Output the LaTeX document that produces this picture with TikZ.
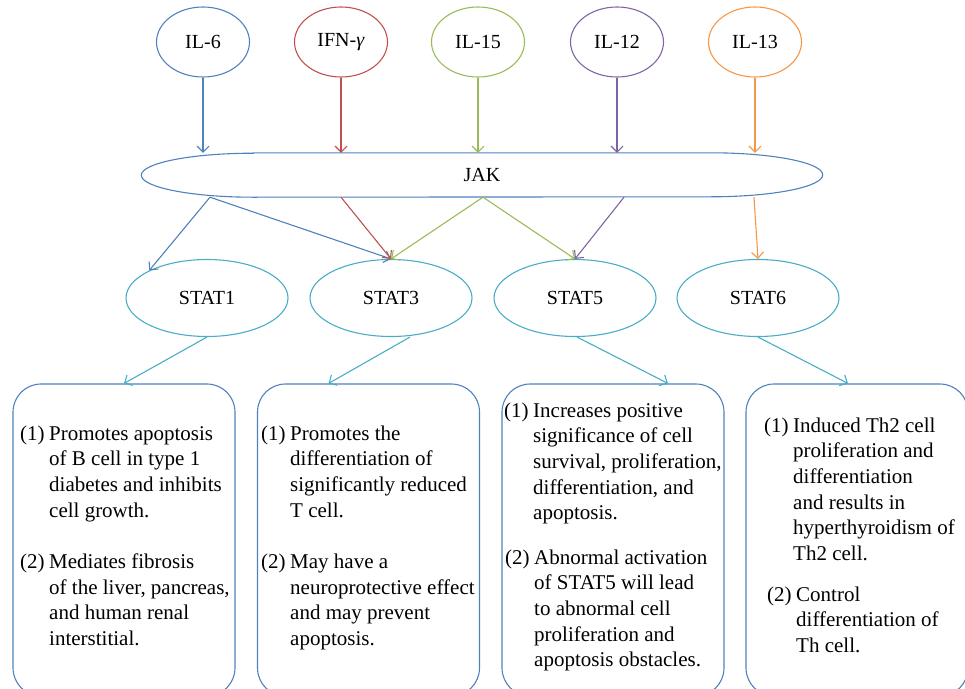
\documentclass[tikz,border=0pt]{standalone}
\usepackage{fontspec}
\setmainfont{Liberation Serif}
\usepackage{xcolor}
\usetikzlibrary{arrows.meta,shapes}

\definecolor{cblue}{HTML}{4F81BD}
\definecolor{cred}{HTML}{C0504D}
\definecolor{cgreen}{HTML}{9BBB59}
\definecolor{cpurple}{HTML}{8064A2}
\definecolor{corange}{HTML}{F79646}
\definecolor{cteal}{HTML}{4BACC6}

\newcommand{\numitem}[2]{\begin{tabular}[t]{@{}p{29pt}@{}l@{}}#1 & #2\end{tabular}}

\begin{document}
\begin{tikzpicture}[x=1pt,y=-1pt,
    cyto/.style={draw, ellipse, line width=1.1pt, inner sep=0pt, minimum width=93pt, minimum height=70pt, font=\fontsize{20}{24}\selectfont},
    stat/.style={draw=cteal, ellipse, line width=1.1pt, inner sep=0pt, minimum width=162pt, minimum height=77pt, font=\fontsize{20}{24}\selectfont},
    panel/.style={draw=cblue, rounded corners=28pt, line width=1.1pt, minimum width=222pt, minimum height=312pt},
    itemtxt/.style={anchor=base west, inner sep=0pt, font=\fontsize{21}{25.7}\selectfont},
    sig/.style={-{Straight Barb[length=6pt,width=12pt]}, line width=1.1pt}]
        \useasboundingbox (0,0) rectangle (965,688);
        \clip (0,0) rectangle (965,688);

        % cytokines
        \node[cyto, draw=cblue] (IL6) at (203,42) {IL-6};
        \node[cyto, draw=cred] (IFN) at (341,42) {IFN-\textit{γ}};
        \node[cyto, draw=cgreen] (IL15) at (478,42) {IL-15};
        \node[cyto, draw=cpurple] (IL12) at (617,42) {IL-12};
        \node[cyto, draw=corange] (IL13) at (755,42) {IL-13};

        % JAK
        \node[inner sep=0pt, minimum width=681pt, minimum height=44pt, font=\fontsize{20}{24}\selectfont] (JAK) at (482,175) {JAK};
        \draw[cblue, line width=1.1pt] ([xshift=112pt]JAK.north west) -- ([xshift=-112pt]JAK.north east)
            arc[start angle=-90, end angle=90, x radius=112, y radius=22]
            -- ([xshift=112pt]JAK.south west)
            arc[start angle=90, end angle=270, x radius=112, y radius=22] -- cycle;

        % STATs
        \node[stat] (STAT1) at (207,298) {STAT1};
        \node[stat] (STAT3) at (391,298) {STAT3};
        \node[stat] (STAT5) at (575,298) {STAT5};
        \node[stat] (STAT6) at (758,298) {STAT6};

        % panels
        \node[panel] (B1) at (124,540) {};
        \node[panel] (B2) at (368.5,540) {};
        \node[panel] (B3) at (613,540) {};
        \node[panel] (B4) at (857,540) {};

        \draw[sig, cblue] (IL6.south) -- (IL6.south |- JAK.north);
        \draw[sig, cred] (IFN.south) -- (IFN.south |- JAK.north);
        \draw[sig, cgreen] (IL15.south) -- (IL15.south |- JAK.north);
        \draw[sig, cpurple] (IL12.south) -- (IL12.south |- JAK.north);
        \draw[sig, corange] (IL13.south) -- (IL13.south |- JAK.north);

        \draw[sig, cblue] ([xshift=-272pt]JAK.south) -- (STAT1.north west);
        \draw[sig, cblue] ([xshift=-272pt]JAK.south) -- (STAT3.north);
        \draw[sig, cred] ([xshift=-141pt]JAK.south) -- (STAT3.north);
        \draw[sig, cgreen] ([xshift=1pt]JAK.south) -- (STAT3.north);
        \draw[sig, cgreen] ([xshift=1pt]JAK.south) -- (STAT5.north);
        \draw[sig, cpurple] ([xshift=142pt]JAK.south) -- (STAT5.north);
        \draw[sig, corange] ([xshift=272pt]JAK.south) -- (STAT6.north);

        \draw[sig, cteal] (STAT1.south) -- (B1.north);
        \draw[sig, cteal] ([xshift=19pt]STAT3.south) -- ([xshift=-40pt]B2.north);
        \draw[sig, cteal] ([xshift=2pt]STAT5.south) -- ([xshift=55pt]B3.north);
        \draw[sig, cteal] (STAT6.south) -- ([xshift=-9pt]B4.north);

        % texts
        \node[itemtxt] (T1a) at (20,440) {\numitem{(1)}{Promotes apoptosis\\ & of B cell in type 1\\ & diabetes and inhibits\\ & cell growth.}};
        \node[itemtxt] (T1b) at (20,568.5) {\numitem{(2)}{Mediates fibrosis\\ & of the liver, pancreas,\\ & and human renal\\ & interstitial.}};

        \node[itemtxt] (T2a) at (261,440) {\numitem{(1)}{Promotes the\\ & differentiation of\\ & significantly reduced\\ & T cell.}};
        \node[itemtxt] (T2b) at (261,568.5) {\numitem{(2)}{May have a\\ & neuroprotective effect\\ & and may prevent\\ & apoptosis.}};

        \node[itemtxt] (T3a) at (504,417) {\numitem{(1)}{Increases positive\\ & significance of cell\\ & survival, proliferation,\\ & differentiation, and\\ & apoptosis.}};
        \node[itemtxt] (T3b) at (505,564) {\numitem{(2)}{Abnormal activation\\ & of STAT5 will lead\\ & to abnormal cell\\ & proliferation and\\ & apoptosis obstacles.}};

        \node[itemtxt] (T4a) at (764,432) {\numitem{(1)}{Induced Th2 cell\\ & proliferation and\\ & differentiation\\ & and results in\\ & hyperthyroidism of\\ & Th2 cell.}};
        \node[itemtxt] (T4b) at (767,601) {\numitem{(2)}{Control\\ & differentiation of\\ & Th cell.}};
    \end{tikzpicture}
\end{document}
